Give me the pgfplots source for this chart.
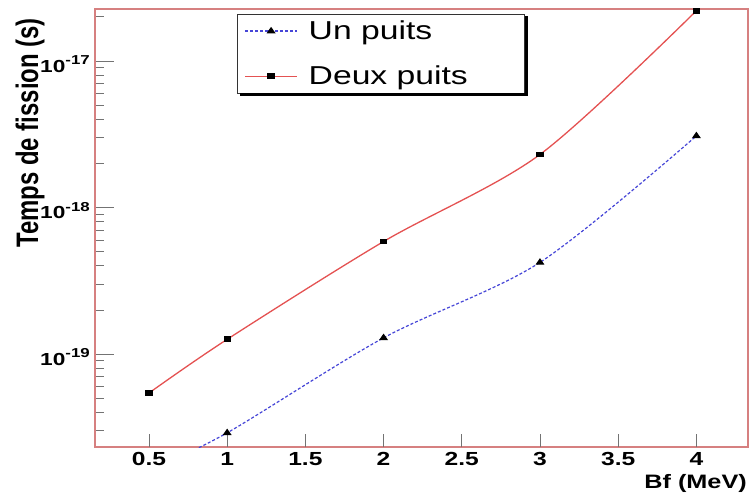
\documentclass[border=0pt]{standalone}
\usepackage{pgfplots}
\pgfplotsset{compat=1.18}
\usepackage{fontspec}
\usepackage{graphicx}
\setmainfont{Liberation Sans}[FakeStretch=1.3]
\newfontfamily\plainfont{Liberation Sans}
\definecolor{framec}{RGB}{214,128,128}
\definecolor{redc}{RGB}{228,82,82}
\definecolor{bluec}{RGB}{70,70,215}
\newcommand\ytl[1]{\fontsize{17.5}{17.5}\selectfont\bfseries 10\raisebox{7.5bp}{\fontsize{13}{13}\selectfont #1}}
\begin{document}
\begin{tikzpicture}
\begin{axis}[
  scale only axis, width=653bp, height=438bp,
  at={(0,0)}, anchor=south west,
  xmin=0.155, xmax=4.33,
  ymode=log, ymin=2.32e-20, ymax=2.26e-17,
  tick align=inside,
  tick style={black!55, line width=0.8bp},
  axis line style={draw=framec, line width=1.2bp},
  xtick=\empty,
  extra x ticks={0.5,1,1.5,2,2.5,3,3.5,4},
  extra x tick labels={0.5,1,1.5,2,2.5,3,3.5,4},
  extra x tick style={major tick length=13bp, xtick pos=bottom,
     tick style={black!55, line width=0.8bp},
     xticklabel style={font=\fontsize{19}{19}\selectfont\bfseries, yshift=-2bp}},
  minor xtick={0.2,0.3,0.4,0.6,0.7,0.8,0.9,1.1,1.2,1.3,1.4,1.6,1.7,1.8,1.9,2.1,2.2,2.3,2.4,2.6,2.7,2.8,2.9,3.1,3.2,3.3,3.4,3.6,3.7,3.8,3.9,4.1,4.2,4.3},
  xtick pos=bottom,
  ytick={1e-19,1e-18,1e-17},
  yticklabels={\ytl{-19},\ytl{-18},\ytl{-17}},
  minor ytick={3e-20,4e-20,5e-20,6e-20,7e-20,8e-20,9e-20,2e-19,3e-19,4e-19,5e-19,6e-19,7e-19,8e-19,9e-19,2e-18,3e-18,4e-18,5e-18,6e-18,7e-18,8e-18,9e-18,2e-17},
  ytick pos=left,
  major tick length=19bp, minor tick length=8.5bp,
  yticklabel style={xshift=-1.7bp, yshift=-3bp},
  legend cell align=left,
  legend image code/.code={\draw[mark repeat=2, mark phase=2, #1] plot coordinates {(0bp,0bp) (26bp,0bp) (52bp,0bp)};},
  legend style={at={(0.2175,0.9886)}, anchor=north west,
    draw=black!80, line width=0.8bp, fill=white,
    font=\fontsize{26}{26}\selectfont,
    inner xsep=7bp, inner ysep=2.5bp, row sep=17bp, column sep=9bp,
    nodes={inner ysep=4bp}},
]
\addplot[bluec, line width=1.2bp, dash pattern=on 3bp off 2bp, smooth,
  mark=triangle*, mark size=3.2bp, mark options={solid, black, fill=black, xscale=1.2}]
  coordinates {(0.5,1.6e-20) (1,2.9e-20) (2,1.29e-19) (3,4.22e-19) (4,3.08e-18)};
\addlegendentry{Un puits}
\addplot[redc, line width=1.3bp, smooth,
  mark=square*, mark size=2.2bp, mark options={solid, black, fill=black, xscale=1.35}]
  coordinates {(0.5,5.42e-20) (1,1.26e-19) (2,5.86e-19) (3,2.30e-18) (4,2.2e-17)};
\addlegendentry{Deux puits\hspace*{48bp}}
\end{axis}
% legend drop shadow (right and bottom edges)
\fill[black] (430.4bp,351.4bp) rectangle (433bp,430.5bp);
\fill[black] (144.5bp,351.4bp) rectangle (433bp,353.6bp);
\node[anchor=base east, inner sep=0pt, font=\fontsize{19.5}{19.5}\selectfont\bfseries] at (652bp,-41bp) {Bf (MeV)};
\node[rotate=90, anchor=east, inner sep=0pt] at (-65bp,429bp) {\plainfont\bfseries\fontsize{24}{24}\selectfont\scalebox{1}[1.3]{Temps de fission (s)}};
\pgfresetboundingbox
\useasboundingbox (-95bp,-49bp) rectangle (655bp,447bp);
\end{tikzpicture}
\end{document}
